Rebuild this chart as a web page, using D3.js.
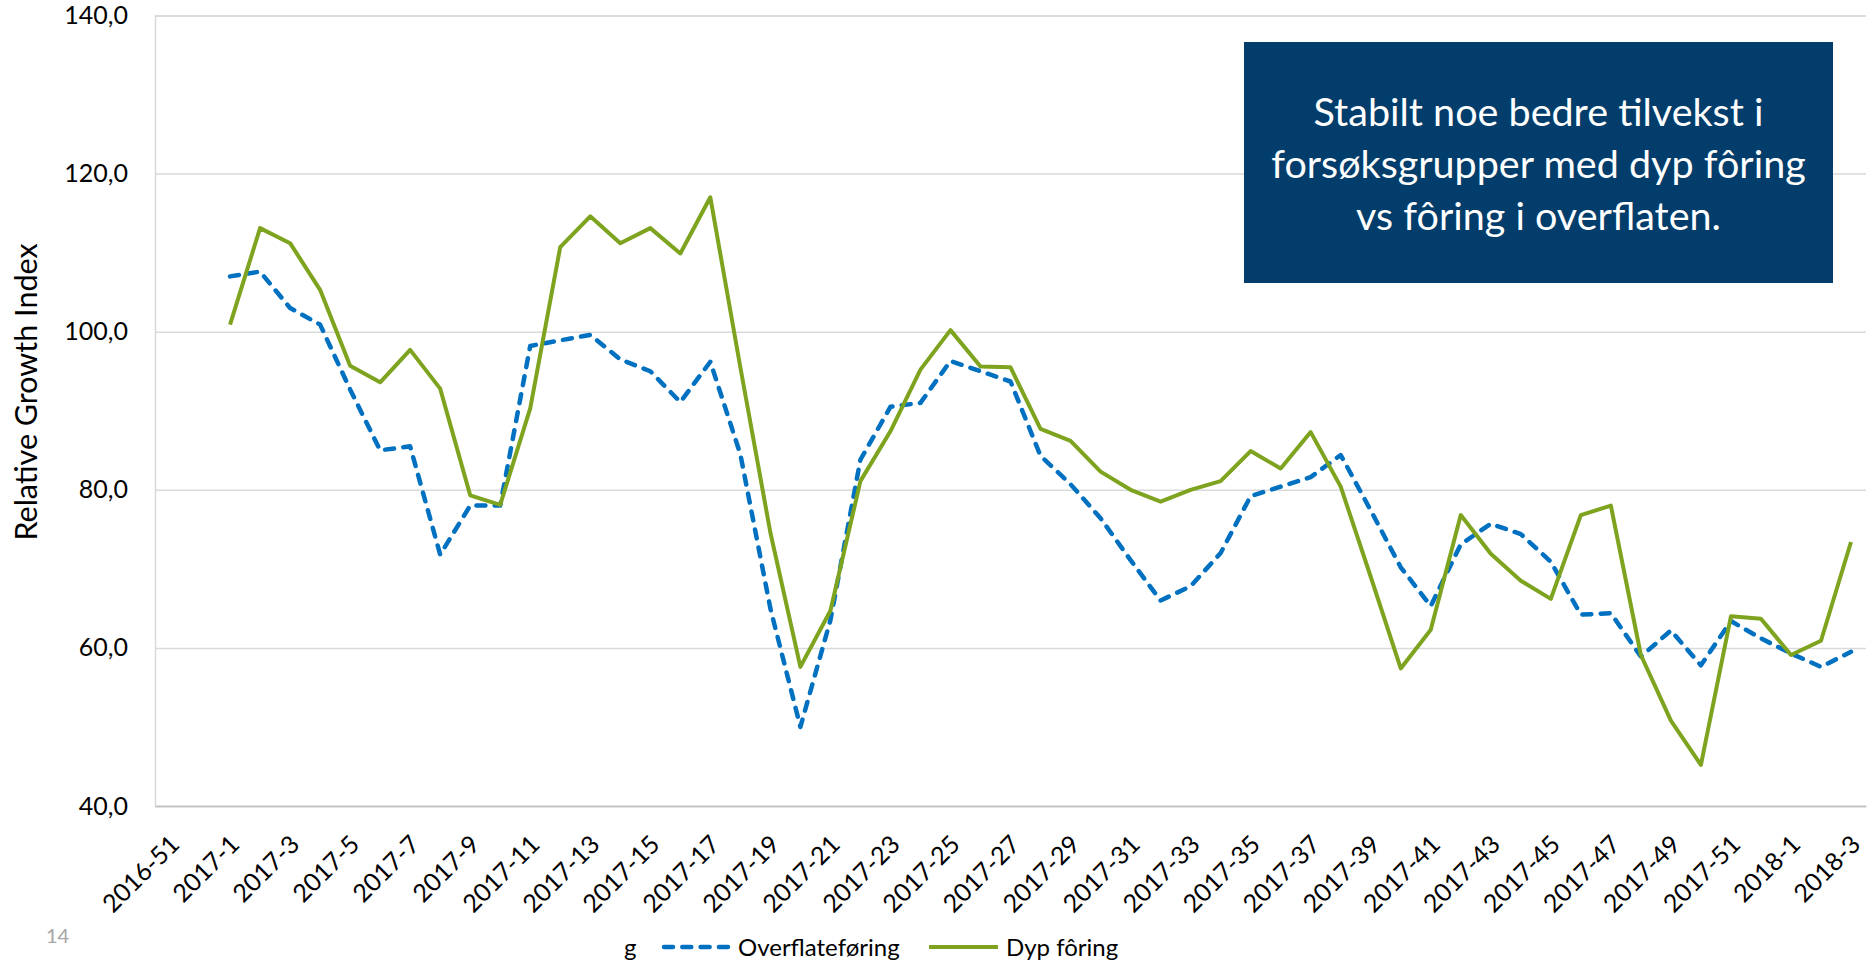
<!DOCTYPE html>
<html>
<head>
<meta charset="utf-8">
<script src="https://cdn.jsdelivr.net/npm/d3@7"></script>
<style>
  html, body { margin: 0; padding: 0; background: #fff; }
  svg { display: block; font-family: Lato, "Open Sans", sans-serif; }
</style>
</head>
<body>
<div id="chart"></div>
<script>
// categories (ISO weeks)
const weeks = [
  "2016-51", "2016-52",
  "2017-1", "2017-2", "2017-3", "2017-4", "2017-5", "2017-6", "2017-7", "2017-8", "2017-9", "2017-10",
  "2017-11", "2017-12", "2017-13", "2017-14", "2017-15", "2017-16", "2017-17", "2017-18", "2017-19", "2017-20",
  "2017-21", "2017-22", "2017-23", "2017-24", "2017-25", "2017-26", "2017-27", "2017-28", "2017-29", "2017-30",
  "2017-31", "2017-32", "2017-33", "2017-34", "2017-35", "2017-36", "2017-37", "2017-38", "2017-39", "2017-40",
  "2017-41", "2017-42", "2017-43", "2017-44", "2017-45", "2017-46", "2017-47", "2017-48", "2017-49", "2017-50",
  "2017-51", "2017-52",
  "2018-1", "2018-2", "2018-3"
];

// weeks shown on the x axis
const tickWeeks = [
  "2016-51", "2017-1", "2017-3", "2017-5", "2017-7", "2017-9", "2017-11", "2017-13", "2017-15", "2017-17",
  "2017-19", "2017-21", "2017-23", "2017-25", "2017-27", "2017-29", "2017-31", "2017-33", "2017-35", "2017-37",
  "2017-39", "2017-41", "2017-43", "2017-45", "2017-47", "2017-49", "2017-51", "2018-1", "2018-3"
];

// series start at 2017-1
const firstWeek = "2017-1";

const overflate = [
  107.0, 107.6, 103.0, 100.9, 92.7, 85.0, 85.5, 71.8, 78.0, 78.0,
  98.2, 98.9, 99.6, 96.5, 95.0, 91.1, 96.2, 84.5, 65.0, 50.0,
  63.5, 83.8, 90.5, 91.0, 96.3, 95.0, 93.7, 84.3, 80.7, 76.4,
  71.1, 66.0, 67.8, 72.0, 79.2, 80.4, 81.6, 84.4, 77.4, 70.2,
  65.3, 73.1, 75.7, 74.4, 70.9, 64.2, 64.4, 58.9, 62.2, 57.8,
  63.4, 61.2, 59.3, 57.6, 59.5
];

const dyp = [
  100.9, 113.1, 111.2, 105.3, 95.7, 93.6, 97.7, 92.8, 79.3, 78.1,
  90.3, 110.7, 114.6, 111.2, 113.1, 109.9, 117.0, 95.5, 74.6, 57.6,
  64.7, 81.1, 87.4, 95.2, 100.2, 95.6, 95.5, 87.7, 86.2, 82.3,
  80.0, 78.5, 80.0, 81.1, 84.9, 82.7, 87.3, 80.4, 69.0, 57.4,
  62.3, 76.8, 71.9, 68.5, 66.2, 76.8, 78.0, 59.1, 50.8, 45.2,
  64.0, 63.7, 59.1, 60.9, 73.4
];

const yTicks = [40, 60, 80, 100, 120, 140];

const boxLines = [
  "Stabilt noe bedre tilvekst i",
  "forsøksgrupper med dyp fôring",
  "vs fôring i overflaten."
];

const W = 1868, H = 963;
const plot = { left: 155, right: 1866, top: 15.5, bottom: 806 };
const blue = "#0070c0";
const green = "#7ea31f";
const navy = "#023d6b";

const svg = d3.select("#chart").append("svg")
  .attr("width", W)
  .attr("height", H);

const x = d3.scaleBand().domain(weeks).range([plot.left, plot.right]);
const y = d3.scaleLinear().domain([40, 140]).range([plot.bottom, plot.top]);

// y axis + gridlines
const yAxis = svg.append("g")
  .attr("transform", `translate(${plot.left},0)`)
  .call(d3.axisLeft(y)
    .tickValues(yTicks)
    .tickSize(-(plot.right - plot.left))
    .tickPadding(27)
    .tickFormat(d => d3.format(".1f")(d).replace(".", ",")));

yAxis.select(".domain").attr("stroke", "#d9d9d9").attr("stroke-width", 1.5);
yAxis.selectAll(".tick line").attr("stroke", "#d9d9d9").attr("stroke-width", 1.5);
yAxis.selectAll(".tick text")
  .attr("font-size", 25)
  .attr("font-family", "Lato, 'Open Sans', sans-serif")
  .attr("fill", "#000");

// x axis
const xAxis = svg.append("g")
  .attr("transform", `translate(0,${plot.bottom})`)
  .call(d3.axisBottom(x).tickValues(tickWeeks).tickSize(0).tickSizeOuter(0));

xAxis.select(".domain").attr("stroke", "#bfbfbf").attr("stroke-width", 1.5);
xAxis.selectAll(".tick text")
  .attr("font-size", 25)
  .attr("font-family", "Lato, 'Open Sans', sans-serif")
  .attr("fill", "#000")
  .attr("y", 0)
  .attr("dy", 0)
  .attr("text-anchor", "end")
  .attr("transform", "translate(11,40) rotate(-45)");

// y title
svg.append("text")
  .attr("transform", "translate(37,392) rotate(-90)")
  .attr("text-anchor", "middle")
  .attr("font-size", 30.5)
  .attr("fill", "#000")
  .text("Relative Growth Index");

// lines
const dataWeeks = weeks.slice(weeks.indexOf(firstWeek));
const line = d3.line()
  .x((d, i) => x(dataWeeks[i]) + x.bandwidth() / 2)
  .y(d => y(d));

svg.append("path")
  .datum(overflate)
  .attr("fill", "none")
  .attr("stroke", blue)
  .attr("stroke-width", 4.5)
  .attr("stroke-linecap", "round")
  .attr("stroke-linejoin", "round")
  .attr("stroke-dasharray", "9,9.3")
  .attr("d", line);

svg.append("path")
  .datum(dyp)
  .attr("fill", "none")
  .attr("stroke", green)
  .attr("stroke-width", 4)
  .attr("stroke-linejoin", "round")
  .attr("d", line);

// text box
const box = { x: 1244, y: 42, w: 589, h: 241 };
svg.append("rect")
  .attr("x", box.x).attr("y", box.y)
  .attr("width", box.w).attr("height", box.h)
  .attr("fill", navy);

const boxText = svg.append("text")
  .attr("text-anchor", "middle")
  .attr("fill", "#fff")
  .attr("font-size", 39.5);

boxText.selectAll("tspan")
  .data(boxLines)
  .join("tspan")
  .attr("x", box.x + box.w / 2)
  .attr("y", (d, i) => 126 + i * 52)
  .text(d => d);

// legend
const legend = svg.append("g").attr("font-size", 24).attr("fill", "#000");
legend.append("text").attr("x", 624).attr("y", 956).text("g");
legend.append("line")
  .attr("x1", 664).attr("x2", 730).attr("y1", 947).attr("y2", 947)
  .attr("stroke", blue).attr("stroke-width", 4.5)
  .attr("stroke-linecap", "round").attr("stroke-dasharray", "9,9.3");
legend.append("text").attr("x", 738).attr("y", 956).text("Overflateføring");
legend.append("line")
  .attr("x1", 929).attr("x2", 998).attr("y1", 947).attr("y2", 947)
  .attr("stroke", green).attr("stroke-width", 4);
legend.append("text").attr("x", 1006).attr("y", 956).text("Dyp fôring");

// page number
svg.append("text")
  .attr("x", 46).attr("y", 943)
  .attr("font-size", 20)
  .attr("fill", "#a6a6a6")
  .text("14");
</script>
</body>
</html>
